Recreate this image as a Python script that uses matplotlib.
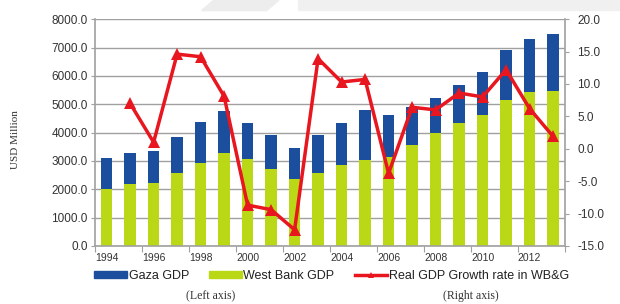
import matplotlib.pyplot as plt
import matplotlib.patches as mpatches
from matplotlib.lines import Line2D
import numpy as np

years = list(range(1994, 2014))
west_bank = [2000, 2170, 2230, 2560, 2910, 3290, 3050, 2730, 2350, 2560,
             2850, 3030, 3150, 3550, 3970, 4320, 4610, 5140, 5430, 5450]
total_gdp = [3090, 3290, 3350, 3840, 4380, 4750, 4340, 3930, 3460, 3930,
             4320, 4810, 4610, 4900, 5230, 5680, 6140, 6900, 7310, 7490]
gaza = [t - w for t, w in zip(total_gdp, west_bank)]
growth_years = years[1:]
growth = [7.0, 1.0, 14.6, 14.2, 8.1, -8.7, -9.4, -12.5, 13.9, 10.3,
          10.7, -3.8, 6.4, 6.0, 8.6, 8.0, 12.2, 6.2, 1.9]

blue = "#1b4f9e"
green = "#bbd816"
red = "#e8161e"
grid_c = "#a0a0a0"

plt.rcParams['font.family'] = ['Liberation Sans', 'DejaVu Sans']

fig = plt.figure(figsize=(6.2, 3.04), dpi=100)

# faint slide decoration at the top
fig.patches.append(mpatches.Rectangle((0.48, 0.967), 0.52, 0.033, transform=fig.transFigure,
                                      color="#f0f0f0", zorder=0))
fig.patches.append(mpatches.Polygon([(0.345, 1.0), (0.45, 1.0), (0.43, 0.965), (0.325, 0.965)],
                                    closed=True, transform=fig.transFigure,
                                    color="#ededed", zorder=0))

ax = fig.add_axes([0.153, 0.191, 0.758, 0.746])
ax.set_facecolor("none")

ax.bar(years, west_bank, width=0.48, color=green, zorder=2)
ax.bar(years, gaza, width=0.48, bottom=west_bank, color=blue, zorder=2)

ax.set_ylim(0, 8000)
ax.set_yticks(np.arange(0, 8001, 1000))
ax.set_yticklabels([f"{v:.1f}" for v in np.arange(0, 8001, 1000)])
ax.yaxis.grid(True, color=grid_c, linewidth=1.0, zorder=0)
ax.set_axisbelow(True)

ax.set_xlim(years[0] - 0.5, years[-1] + 0.5)
ax.set_xticks([y - 0.5 for y in years[::2]] + [years[-1] + 0.5])
ax.set_xticklabels([])
ax.set_xticks(years[::2], minor=True)
ax.set_xticklabels([str(y) for y in years[::2]], minor=True)
ax.tick_params(axis='x', which='minor', length=0, pad=5, labelsize=7.5, labelcolor="#333333")
ax.tick_params(axis='x', which='major', length=4, color=grid_c)
ax.tick_params(axis='y', length=3, color=grid_c, labelsize=8.5, labelcolor="#333333", pad=2)

for s in ['top', 'right']:
    ax.spines[s].set_visible(False)
for s in ['left', 'bottom']:
    ax.spines[s].set_color(grid_c)
    ax.spines[s].set_linewidth(1.2)

ax2 = ax.twinx()
ax2.plot(growth_years, growth, color=red, linewidth=2.5, marker='^', markersize=9,
         markeredgewidth=0, zorder=5)
ax2.set_ylim(-15, 20)
ax2.set_yticks(np.arange(-15, 21, 5))
ax2.set_yticklabels([f"{v:.1f}" for v in np.arange(-15, 21, 5)])
ax2.tick_params(axis='y', length=3, color=grid_c, labelsize=8.5, labelcolor="#333333", pad=6)
for s in ['top', 'left', 'bottom']:
    ax2.spines[s].set_visible(False)
ax2.spines['right'].set_color(grid_c)
ax2.spines['right'].set_linewidth(1.2)

fig.text(0.025, 0.54, "USD Million", rotation=90, ha='center', va='center',
         family=['Liberation Serif'], fontsize=8, color="#333333")

handles = [mpatches.Patch(color=blue, label="Gaza GDP"),
           mpatches.Patch(color=green, label="West Bank GDP"),
           Line2D([], [], color=red, linewidth=2.5, marker='^', markersize=5,
                  markeredgewidth=0, label="Real GDP Growth rate in WB&G")]
fig.legend(handles=handles, loc='center', bbox_to_anchor=(0.535, 0.092), ncol=3,
           frameon=False, fontsize=9, handlelength=2.6, handleheight=0.5,
           handletextpad=0.15, columnspacing=1.6, labelcolor="#222222")

fig.text(0.34, 0.025, "(Left axis)", ha='center', va='center',
         family=['Liberation Serif'], fontsize=8.5, color="#333333")
fig.text(0.76, 0.025, "(Right axis)", ha='center', va='center',
         family=['Liberation Serif'], fontsize=8.5, color="#333333")

fig.savefig("out.png", dpi=100)
